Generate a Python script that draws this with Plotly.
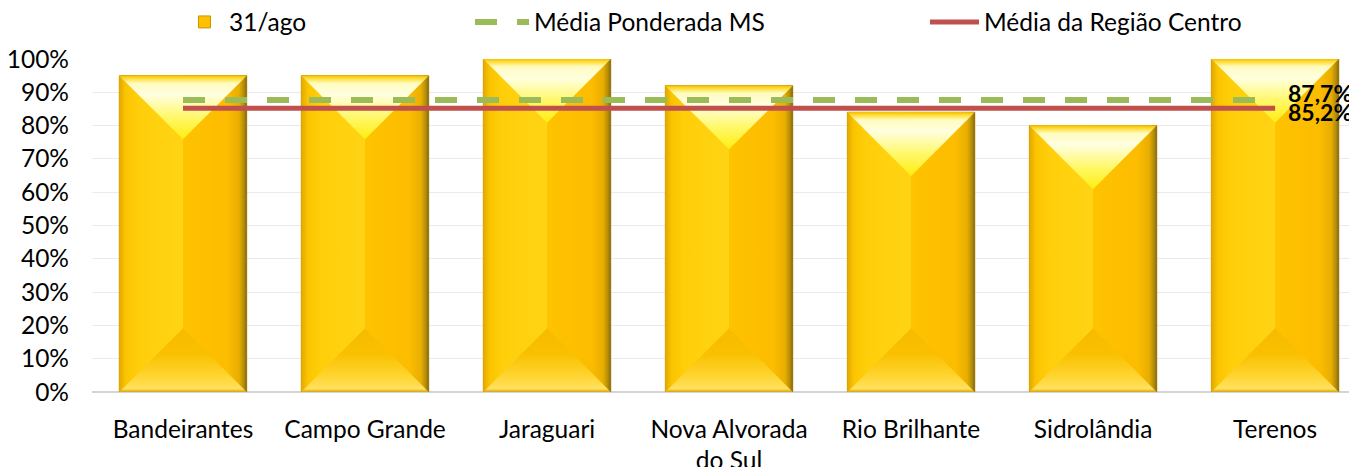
import plotly.graph_objects as go

categories = ["Bandeirantes", "Campo Grande", "Jaraguari", "Nova Alvorada<br>do Sul",
              "Rio Brilhante", "Sidrolândia", "Terenos"]
values_31ago = [0.95, 0.95, 1.00, 0.92, 0.84, 0.80, 1.00]
media_ms = 0.877
media_regiao = 0.852
media_ms_label = "87,7%"
media_regiao_label = "85,2%"
y_ticks = [0, 0.1, 0.2, 0.3, 0.4, 0.5, 0.6, 0.7, 0.8, 0.9, 1.0]
y_tick_labels = ["0%", "10%", "20%", "30%", "40%", "50%", "60%", "70%", "80%", "90%", "100%"]

# page body has an 8px margin, so the figure is sized/placed to compensate
W, H = 1349, 459
ML, MR, MT, MB = 84, 0, 51, 75
XR = [-0.5, 6.45]
YR = [0, 1.0]
BW = 0.70
FONT = "Lato"
FS = 24.5

plot_w = W - ML - MR
px_per_x = plot_w / (XR[1] - XR[0])
px_per_y = (H - MT - MB) / (YR[1] - YR[0])
half = BW / 2
depth = half * px_per_x / px_per_y  # 45-degree bevel in data units

fig = go.Figure()
xs = list(range(len(categories)))

fig.add_trace(go.Bar(x=xs, y=values_31ago, width=BW, name="31/ago",
                     marker=dict(color="#FFC000", line=dict(width=1, color="#C89600")),
                     hoverinfo="skip", legend="legend"))

for c, v in zip(xs, values_31ago):
    # left half
    fig.add_trace(go.Scatter(
        x=[c - half, c, c, c - half, c - half], y=[0, 0, v, v, 0],
        fill="toself", mode="none", showlegend=False, hoverinfo="skip",
        fillgradient=dict(type="horizontal", start=c - half, stop=c,
                          colorscale=[[0, "#E3A800"], [0.1, "#FBC400"], [0.3, "#FFCE0A"], [1, "#FFD414"]])))
    # right half
    fig.add_trace(go.Scatter(
        x=[c, c + half, c + half, c, c], y=[0, 0, v, v, 0],
        fill="toself", mode="none", showlegend=False, hoverinfo="skip",
        fillgradient=dict(type="horizontal", start=c, stop=c + half,
                          colorscale=[[0, "#FFC300"], [0.7, "#FCBC00"], [0.88, "#E8AE00"], [0.96, "#B08A08"], [1, "#7A6420"]])))
    # top triangle
    fig.add_trace(go.Scatter(
        x=[c - half, c + half, c, c - half], y=[v, v, v - depth, v],
        fill="toself", mode="none", showlegend=False, hoverinfo="skip",
        fillgradient=dict(type="vertical", start=v - depth, stop=v,
                          colorscale=[[0, "#FFEE10"], [0.35, "#FFF86A"], [0.7, "#FFFFE0"], [0.88, "#FFFBC0"], [0.95, "#FFE040"], [1, "#F5C000"]])))
    # bottom triangle
    fig.add_trace(go.Scatter(
        x=[c - half, c + half, c, c - half], y=[0, 0, depth, 0],
        fill="toself", mode="none", showlegend=False, hoverinfo="skip",
        fillgradient=dict(type="vertical", start=0, stop=depth,
                          colorscale=[[0, "#D8A400"], [0.05, "#FFE060"], [0.25, "#FFD530"], [0.6, "#F9C000"], [1, "#F7BA00"]])))

fig.add_trace(go.Scatter(x=[xs[0], xs[-1]], y=[media_ms, media_ms], mode="lines",
                         name="Média Ponderada MS", legend="legend2",
                         line=dict(color="#9BBB59", width=6, dash="22px,20px"), hoverinfo="skip"))
fig.add_trace(go.Scatter(x=[xs[0], xs[-1]], y=[media_regiao, media_regiao], mode="lines",
                         name="Média da Região Centro", legend="legend3",
                         line=dict(color="#C0504D", width=5), hoverinfo="skip"))

fig.add_annotation(x=xs[-1], y=media_ms, text="<b>" + media_ms_label + "</b>", showarrow=False,
                   xanchor="left", yanchor="middle", xshift=11, yshift=7,
                   font=dict(family=FONT, size=23, color="black"))
fig.add_annotation(x=xs[-1], y=media_regiao, text="<b>" + media_regiao_label + "</b>", showarrow=False,
                   xanchor="left", yanchor="middle", xshift=11, yshift=-4,
                   font=dict(family=FONT, size=23, color="black"))

leg_y = 1 - 14 / H
leg_common = dict(orientation="h", yanchor="middle", xanchor="left", yref="container", y=leg_y,
                  font=dict(family=FONT, size=FS, color="black"), bgcolor="rgba(0,0,0,0)")
fig.update_layout(
    width=W, height=H,
    margin=dict(l=ML, r=MR, t=MT, b=MB, autoexpand=False),
    plot_bgcolor="white", paper_bgcolor="white",
    barmode="overlay",
    font=dict(family=FONT, size=FS, color="black"),
    legend=dict(x=(180 - 8 - ML) / plot_w, itemwidth=39, **leg_common),
    legend2=dict(x=(470 - 8 - ML) / plot_w, itemwidth=54, **leg_common),
    legend3=dict(x=(925 - 8 - ML) / plot_w, itemwidth=49, **leg_common),
    xaxis=dict(range=XR, tickmode="array", tickvals=xs, ticktext=categories,
               showgrid=False, zeroline=False, showline=False, ticks="", automargin=False,
               ticklabelstandoff=20, tickfont=dict(family=FONT, size=FS, color="black")),
    yaxis=dict(range=YR, tickmode="array", tickvals=y_ticks, ticktext=y_tick_labels,
               showgrid=True, gridcolor="#EBEBEB", gridwidth=1, automargin=False,
               zeroline=True, zerolinecolor="#D4D4D4", zerolinewidth=2,
               showline=False, ticks="", ticklabelstandoff=22,
               tickfont=dict(family=FONT, size=FS, color="black")),
)

fig.write_html("out.html")
